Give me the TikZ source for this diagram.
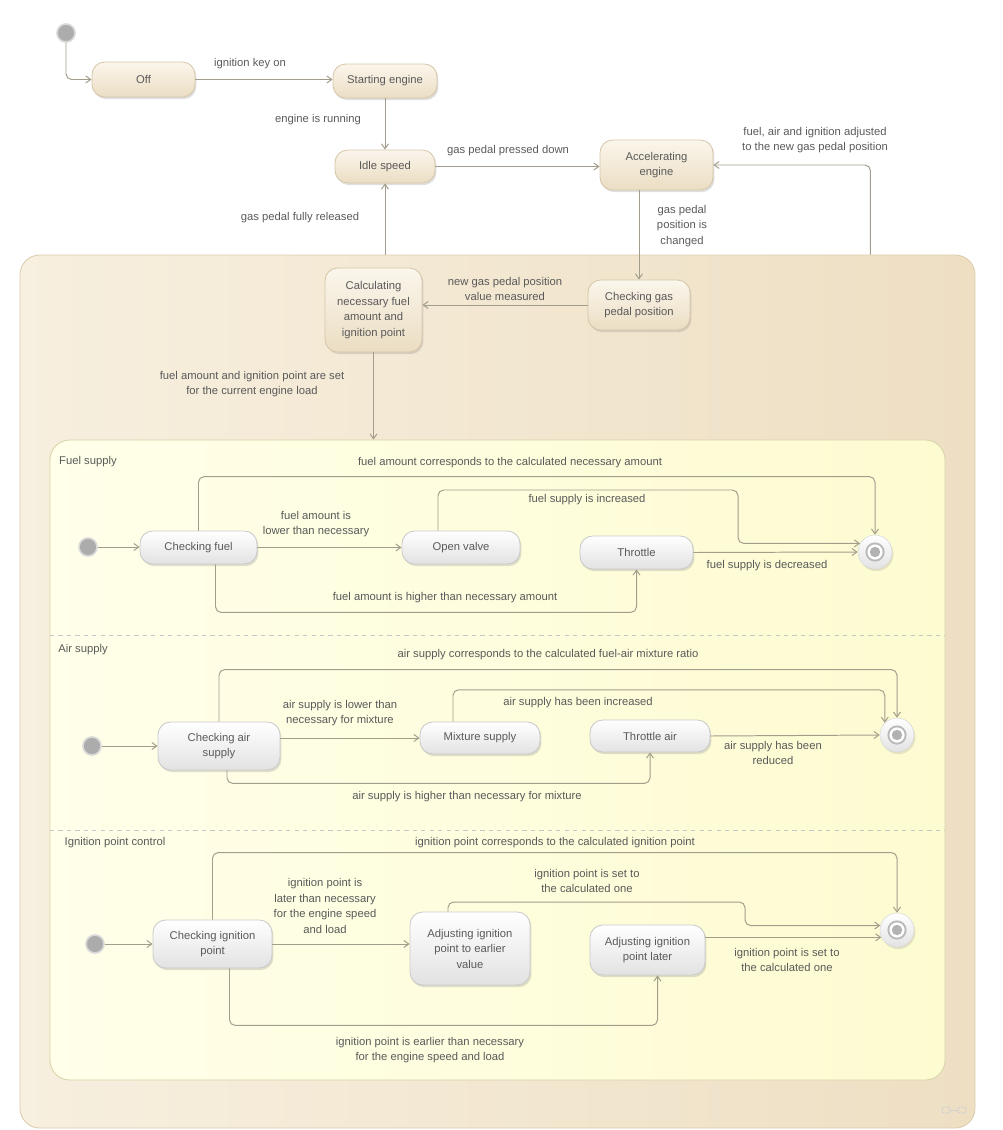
\documentclass[tikz,border=0pt]{standalone}
\usepackage{fontspec}
\setmainfont{Liberation Sans}
\usetikzlibrary{arrows.meta,calc,fit,shadows}

\definecolor{stTop}{HTML}{FBF6EC}
\definecolor{stBot}{HTML}{EBDDC3}
\definecolor{stLine}{HTML}{D6C7A9}
\definecolor{inBot}{HTML}{E2E2E2}
\definecolor{inLine}{HTML}{CACACA}
\definecolor{compL}{HTML}{F7EFDF}
\definecolor{compR}{HTML}{EEDFC3}
\definecolor{compLine}{HTML}{DCCDAE}
\definecolor{innerL}{HTML}{FFFFEA}
\definecolor{innerR}{HTML}{FDFBD0}
\definecolor{innerLine}{HTML}{D9D3A8}
\definecolor{wireC}{HTML}{A39D8C}
\definecolor{txtgray}{HTML}{5A5A5A}

\begin{document}
\begin{tikzpicture}[x=0.025cm,y=-0.025cm,
	every node/.style={font=\fontsize{8}{11}\selectfont, text=txtgray},
	box/.style={draw=stLine, line width=0.6pt, rounded corners=9pt, top color=stTop, bottom color=stBot, inner sep=0pt,
		drop shadow={shadow xshift=1pt, shadow yshift=-1.5pt, opacity=0.25}},
	ibox/.style={box, draw=inLine, top color=white, bottom color=inBot},
	comp/.style={draw=compLine, line width=0.6pt, rounded corners=14pt, left color=compL, right color=compR, inner sep=0pt},
	incomp/.style={draw=innerLine, line width=0.6pt, rounded corners=14pt, left color=innerL, right color=innerR, inner sep=0pt},
	lbl/.style={align=center, inner sep=1pt},
	wire/.style={draw=wireC, line width=0.7pt, rounded corners=4pt, -{Straight Barb[length=3.5pt,width=5pt]}},
	init/.style={circle, fill=gray!65, draw=gray!30, line width=1.2pt, minimum size=0.45cm, inner sep=0pt},
	fin/.style={circle, minimum size=0.85cm, inner sep=0pt, draw=gray!30, top color=white, bottom color=gray!22,
		drop shadow={shadow xshift=1pt, shadow yshift=-1.5pt, opacity=0.2},
		path picture={
			\fill[gray!55] (path picture bounding box.center) circle (0.24cm);
			\fill[white] (path picture bounding box.center) circle (0.19cm);
			\fill[gray!60] (path picture bounding box.center) circle (0.13cm);}}]
	\useasboundingbox (0,0) rectangle (1002,1130);

	% composite states
	\node[comp, fit={(20,255) (975,1128)}] (comp) {};
	\node[incomp, fit={(50,440) (945,1080)}] (inner) {};
	\draw[gray!45, dashed, line width=0.5pt] (50,635) -- (945,635);
	\draw[gray!45, dashed, line width=0.5pt] (50,830) -- (945,830);
	% decomposition icon
	\draw[gray!35, line width=0.6pt, rounded corners=1.5pt] (942,1107) rectangle (950,1113) (958,1107) rectangle (966,1113);
	\draw[gray!35, line width=0.6pt] (950,1110) -- (958,1110);

	% top states
	\node[init] (i0) at (66,33) {};
	\node[box, fit={(92,62) (195,97)}, label={[lbl]center:Off}] (s1) {};
	\node[box, fit={(333,64) (437,98)}, label={[lbl]center:Starting engine}] (s2) {};
	\node[box, fit={(335,150) (435,183)}, label={[lbl]center:Idle speed}] (s3) {};
	\node[box, fit={(600,140) (713,190)}, label={[lbl]center:{Accelerating\\engine}}] (s4) {};
	\node[box, fit={(588,280) (690,330)}, label={[lbl]center:{Checking gas\\pedal position}}] (chk) {};
	\node[box, fit={(325,268) (422,352)}, label={[lbl]center:{Calculating\\necessary fuel\\amount and\\ignition point}}] (calc) {};

	% top transitions
	\draw[wire] (i0) |- (s1.west);
	\draw[wire] (s1.east) -- (s1.east -| s2.west);
	\draw[wire] (s2.south) -- (s3.north);
	\draw[wire] (s3.south |- comp.north) -- (s3.south);
	\draw[wire] (s3.east) -- (s3.east -| s4.west);
	\draw[wire] ($(comp.north east)+(-105,0)$) |- (s4.east);
	\draw[wire] (chk.north |- s4.south) -- (chk.north);
	\draw[wire] (chk.west) -- (chk.west -| calc.east);
	\draw[wire] (calc.south) -- (calc.south |- inner.north);

	\node[lbl] (t1) at (250,64) {ignition key on};
	\node[lbl] (t2) at (318,120) {engine is running};
	\node[lbl] (t3) at (300,218) {gas pedal fully released};
	\node[lbl] (t4) at (508,151) {gas pedal pressed down};
	\node[lbl] (t5) at (815,140) {fuel, air and ignition adjusted\\to the new gas pedal position};
	\node[lbl] (t6) at (682,226) {gas pedal\\position is\\changed};
	\node[lbl] (t7) at (505,289) {new gas pedal position\\value measured};
	\node[lbl] (t8) at (252,384) {fuel amount and ignition point are set\\for the current engine load};

	% region 1
	\node[lbl] (r1) at (88,462) {Fuel supply};
	\node[init] (i1) at (88,547) {};
	\node[ibox, fit={(140,531) (257,564)}, label={[lbl]center:Checking fuel}] (fA) {};
	\node[ibox, fit={(402,531) (520,564)}, label={[lbl]center:Open valve}] (fB) {};
	\node[ibox, fit={(580,536) (693,569)}, label={[lbl]center:Throttle}] (fC) {};
	\node[fin] (f1) at (875,552) {};
	\draw[wire] (i1) -- (i1 -| fA.west);
	\draw[wire] (fA.east) -- (fB.west);
	\draw[wire] (fA.north) -- ++(0,-54) -| (f1.north);
	\draw[wire] ($(fB.north)+(-23,0)$) |- (738,490) |- (f1.150);
	\draw[wire] ($(fA.south)+(17,0)$) -- ++(0,48) -| (fC.south);
	\draw[wire] (fC.east) -- (f1.west);
	\node[lbl] (a1) at (316,524) {fuel amount is\\lower than necessary};
	\node[lbl] (a2) at (510,463) {fuel amount corresponds to the calculated necessary amount};
	\node[lbl] (a3) at (587,500) {fuel supply is increased};
	\node[lbl] (a4) at (445,598) {fuel amount is higher than necessary amount};
	\node[lbl] (a5) at (767,566) {fuel supply is decreased};

	% region 2
	\node[lbl] (r2) at (83,650) {Air supply};
	\node[init] (i2) at (92,746) {};
	\node[ibox, fit={(158,722) (280,770)}, label={[lbl]center:{Checking air\\supply}}] (fD) {};
	\node[ibox, fit={(420,722) (540,754)}, label={[lbl]center:Mixture supply}] (fE) {};
	\node[ibox, fit={(590,720) (710,752)}, label={[lbl]center:Throttle air}] (fF) {};
	\node[fin] (f2) at (897,735) {};
	\draw[wire] (i2) -- (i2 -| fD.west);
	\draw[wire] ($(fD.east)+(0,-8)$) -- (fE.west);
	\draw[wire] (fD.north) -- ++(0,-52) -| (f2.north);
	\draw[wire] ($(fE.north)+(-27,0)$) |- ($(f2.north west)+(0,-33)$) -- (f2.north west);
	\draw[wire] ($(fD.south)+(8,0)$) -- ++(0,13) -| (fF.south);
	\draw[wire] (fF.east) -- (f2.west);
	\node[lbl] (b1) at (340,713) {air supply is lower than\\necessary for mixture};
	\node[lbl] (b2) at (548,655) {air supply corresponds to the calculated fuel-air mixture ratio};
	\node[lbl] (b3) at (578,703) {air supply has been increased};
	\node[lbl] (b4) at (467,797) {air supply is higher than necessary for mixture};
	\node[lbl] (b5) at (773,753) {air supply has been\\reduced};

	% region 3
	\node[lbl] (r3) at (115,843) {Ignition point control};
	\node[init] (i3) at (95,944) {};
	\node[ibox, fit={(153,920) (272,968)}, label={[lbl]center:{Checking ignition\\point}}] (fG) {};
	\node[ibox, fit={(410,912) (530,985)}, label={[lbl]center:{Adjusting ignition\\point to earlier\\value}}] (fH) {};
	\node[ibox, fit={(590,925) (705,975)}, label={[lbl]center:{Adjusting ignition\\point later}}] (fI) {};
	\node[fin] (f3) at (897,930) {};
	\draw[wire] (i3) -- (i3 -| fG.west);
	\draw[wire] (fG.east) -- (fG.east -| fH.west);
	\draw[wire] (fG.north) -- ++(0,-67) -| (f3.north);
	\draw[wire] ($(fH.north)+(-22,0)$) |- (745,902) |- (f3.165);
	\draw[wire] ($(fG.south)+(17,0)$) -- ++(0,57) -| ($(fI.south)+(10,0)$);
	\draw[wire] (fI.east |- f3.205) -- (f3.205);
	\node[lbl] (c1) at (325,906) {ignition point is\\later than necessary\\for the engine speed\\and load};
	\node[lbl] (c2) at (555,843) {ignition point corresponds to the calculated ignition point};
	\node[lbl] (c3) at (587,881) {ignition point is set to\\the calculated one};
	\node[lbl] (c4) at (430,1050) {ignition point is earlier than necessary\\for the engine speed and load};
	\node[lbl] (c5) at (787,960) {ignition point is set to\\the calculated one};
\end{tikzpicture}
\end{document}
